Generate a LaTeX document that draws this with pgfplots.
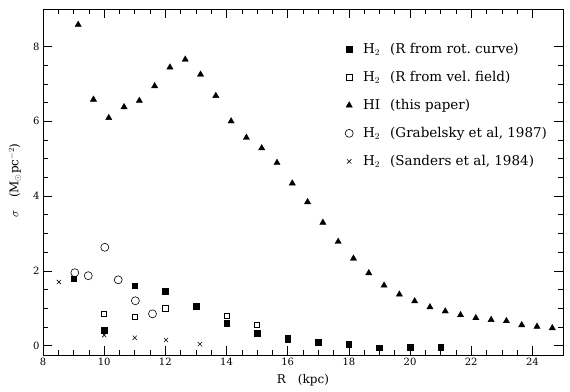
\documentclass[border=0pt]{standalone}
\usepackage{pgfplots}
\usepackage{fontspec}
\setmainfont{DejaVu Serif}
\pgfplotsset{compat=1.18}
\pgfplotstableread{
x y
9.15 8.58
9.65 6.58
10.15 6.09
10.65 6.38
11.15 6.55
11.65 6.94
12.15 7.44
12.65 7.65
13.15 7.25
13.65 6.68
14.15 6.00
14.65 5.56
15.15 5.28
15.65 4.89
16.15 4.34
16.65 3.84
17.15 3.29
17.65 2.78
18.15 2.33
18.65 1.94
19.15 1.61
19.65 1.37
20.15 1.19
20.65 1.03
21.15 0.92
21.65 0.82
22.15 0.74
22.65 0.69
23.15 0.66
23.65 0.55
24.15 0.51
24.65 0.47
}\hidata
\pgfplotstableread{
x y
9 1.79
10 0.42
11 1.60
12 1.45
13 1.06
14 0.60
15 0.33
16 0.17
17 0.09
18 0.04
19 -0.05
20 -0.04
21 -0.04
}\rotdata
\pgfplotstableread{
x y
10 0.86
11 0.77
12 1.00
14 0.80
15 0.55
16 0.22
}\veldata
\pgfplotstableread{
x y
9.04 1.95
9.48 1.87
10.02 2.63
10.46 1.76
11.02 1.20
11.58 0.85
}\grabdata
\pgfplotstableread{
x y
8.52 1.70
10.0 0.28
11.0 0.21
12.02 0.15
13.13 0.04
}\sanddata
\begin{document}
\begin{tikzpicture}
\path[use as bounding box] (-43pt,-36pt) rectangle (527pt,355pt);
\begin{axis}[
  at={(0pt,0pt)}, anchor=south west,
  scale only axis, width=520pt, height=346pt,
  xmin=8, xmax=25, ymin=-0.25, ymax=9,
  xtick={8,10,...,24}, ytick={0,2,...,8},
  minor x tick num=3, minor y tick num=3,
  major tick length=9pt, minor tick length=5pt,
  every tick/.style={black, line width=0.6pt},
  axis line style={line width=0.9pt},
  /pgf/number format/assume math mode=true,
  tick label style={font=\fontsize{10}{12}\selectfont},
  label style={font=\fontsize{12}{14}\selectfont},
  xlabel={R\quad(kpc)},
  ylabel={$\sigma$\quad(M$_\odot$pc$^{-2}$)},
  xlabel style={at={(axis description cs:0.5,-0.074)}, anchor=center},
  ylabel style={at={(axis description cs:-0.054,0.505)}, anchor=center, rotate=0},
  legend style={at={(axis description cs:0.575,0.913)}, anchor=north west,
    draw=none, fill=none, font=\fontsize{13.5}{15}\selectfont, row sep=12.3pt,
    legend cell align=left,
    /tikz/every odd column/.append style={column sep=8pt}},
]
\addplot[only marks, mark=square*, mark size=2.8pt, black] table {\rotdata};
\addlegendentry{\makebox[27pt][l]{H$_2$}(R from rot.\ curve)}
\addplot[only marks, mark=square, mark size=2.6pt, black, mark options={line width=0.6pt}] table {\veldata};
\addlegendentry{\makebox[27pt][l]{H$_2$}(R from vel.\ field)}
\addplot[only marks, mark=triangle*, mark size=3.6pt, black] table {\hidata};
\addlegendentry{\makebox[27pt][l]{HI}(this paper)}
\addplot[only marks, mark=o, mark size=4pt, black, mark options={line width=0.6pt}] table {\grabdata};
\addlegendentry{\makebox[27pt][l]{H$_2$}(Grabelsky et al, 1987)}
\addplot[only marks, mark=x, mark size=3pt, black, mark options={line width=0.6pt}] table {\sanddata};
\addlegendentry{\makebox[27pt][l]{H$_2$}(Sanders et al, 1984)}
\end{axis}
\end{tikzpicture}
\end{document}
